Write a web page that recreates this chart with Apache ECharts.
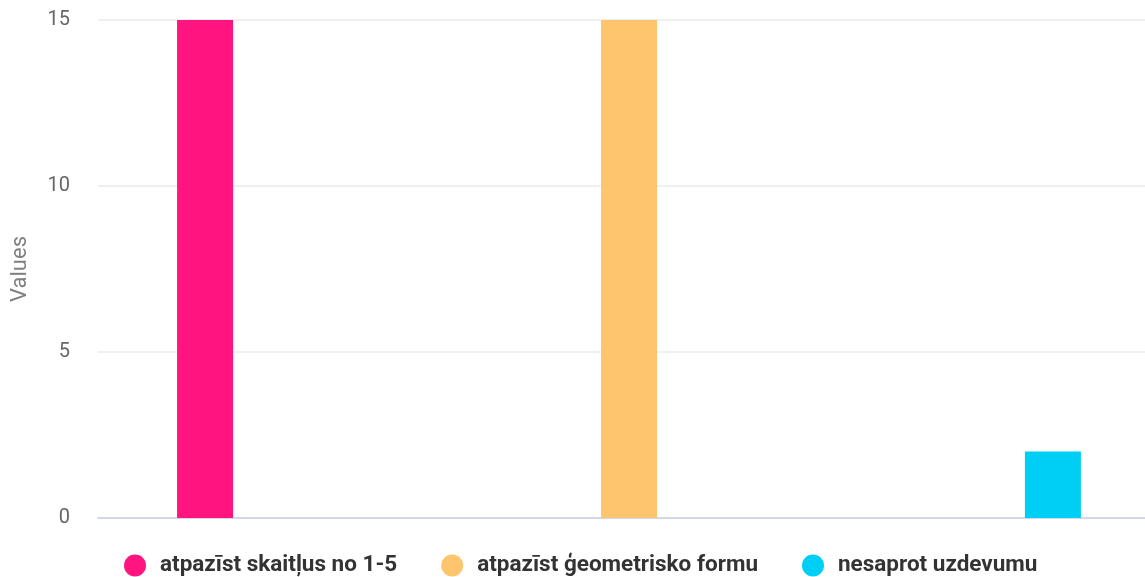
<!DOCTYPE html>
<html><head><meta charset="utf-8">
<script src="https://cdn.jsdelivr.net/npm/echarts@6/dist/echarts.min.js"></script>
<style>html,body{margin:0;padding:0;background:#fff}#c{width:1145px;height:577px}</style>
</head><body><div id="c"></div>
<script>
var categories = [''];
var seriesNames = ['atpazīst skaitļus no 1-5', 'atpazīst ģeometrisko formu', 'nesaprot uzdevumu'];
var seriesValues = [[15], [15], [2]];
var colors = ['#ff1480', '#ffc56e', '#00cff5'];
var yTicks = [0, 5, 10, 15];

var chart = echarts.init(document.getElementById('c'));
chart.setOption({
  animation: false,
  color: colors,
  textStyle: { fontFamily: 'Roboto' },
  grid: { left: 98, width: 1062, top: 20, bottom: 59, outerBoundsMode: 'none', containLabel: false },
  legend: {
    top: 549, left: 119, icon: 'circle', itemWidth: 40, itemHeight: 22, itemGap: 44,
    symbolKeepAspect: true,
    textStyle: { fontSize: 22.5, fontWeight: 'bold', color: '#333', fontFamily: 'Roboto' }
  },
  xAxis: {
    type: 'category', data: categories,
    axisLine: { lineStyle: { color: '#d4d6ea', width: 2 } },
    axisTick: { show: false }, axisLabel: { show: false }
  },
  yAxis: {
    type: 'value', min: yTicks[0], max: yTicks[yTicks.length - 1], interval: 5,
    name: 'Values', nameLocation: 'middle', nameGap: 67, nameRotate: 90,
    nameTextStyle: { fontSize: 22, color: '#808080', fontFamily: 'Roboto' },
    axisLabel: { fontSize: 20, color: '#666', margin: 28, fontFamily: 'Roboto' },
    splitLine: { lineStyle: { color: '#ebebeb', width: 1.5 } },
    axisLine: { show: false }, axisTick: { show: false }
  },
  series: seriesNames.map(function (n, i) {
    return { name: n, type: 'bar', data: seriesValues[i], barWidth: 56, barGap: '657%' };
  })
});
</script></body></html>
